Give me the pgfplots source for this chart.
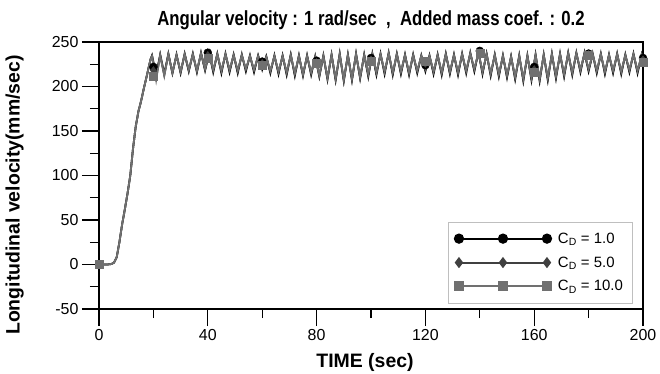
\documentclass[border=0pt]{standalone}
\usepackage{fontspec}
\setmainfont{Liberation Sans}
\newfontfamily\narrowfont{Liberation Sans}[FakeStretch=0.82]
\usepackage{pgfplots}
\pgfplotsset{compat=1.18}
\definecolor{cdone}{HTML}{000000}
\definecolor{cdfive}{HTML}{404040}
\definecolor{cdten}{HTML}{707070}
\begin{document}
\begin{tikzpicture}
\path[use as bounding box] (-99bp,-65bp) rectangle (561bp,309bp);
\begin{axis}[
  scale only axis, width=544bp, height=267bp,
  xmin=0, xmax=200, ymin=-50, ymax=250,
  xtick={0,40,...,200}, ytick={-50,0,...,250},
  minor x tick num=1, minor y tick num=1,
  xtick pos=bottom, ytick pos=left,
  tick align=outside,
  major tick length=17bp, minor tick length=9bp,
  axis line style={line width=1.4bp},
  every tick/.style={black, line width=1.3bp},
  tick label style={font=\fontsize{16}{18}\selectfont},
  /pgf/number format/assume math mode=true,
  title={Angular velocity : 1 rad/sec~~,~~Added mass coef. : 0.2},
  title style={font=\narrowfont\fontsize{20.5}{23}\selectfont\bfseries, at={(axis description cs:0.5,1)}, anchor=base, yshift=11bp},
  xlabel={TIME (sec)},
  xlabel style={font=\fontsize{19.5}{22}\selectfont\bfseries, at={(axis description cs:0.489,-0.202)}, anchor=center},
  ylabel={Longitudinal velocity(mm/sec)},
  ylabel style={font=\fontsize{19.5}{22}\selectfont\bfseries, at={(axis description cs:-0.155,0.427)}, anchor=center},
  legend image code/.code={\draw[#1] plot coordinates {(0bp,0bp) (44bp,0bp) (88bp,0bp)};},
  legend cell align=left,
  legend style={at={(axis description cs:0.98,0.022)}, anchor=south east, draw=black!25,
    font=\fontsize{15}{17}\selectfont, row sep=8bp, column sep=5bp, inner xsep=7bp, inner ysep=8.5bp},
]
% C_D = 1.0 (black)
\addplot[cdone, line width=1.8bp, forget plot] coordinates {
(0,0) (3,0) (4.5,0.5) (5.5,2) (6.5,8) (7.5,25) (8.5,45) (9.5,62) (10.5,80) (11.5,100) (12.5,130) (13.5,155) (14.5,172) (15.5,184) (16.5,198) (17.5,211) (18.3,222) (19,231)
(19.5,235) (21,213) (22.5,236) (24,214) (25.5,237) (27,215) (28.5,236) (30,215) (31.5,237) (33,217) (34.5,237) (36,216) (37.5,238) (39,218) (40.5,238) (42,216) (43.5,237) (45,215) (46.5,237) (48,216) (49.5,236)
(51,215) (52.5,236) (54,217) (55.5,235) (57,216) (58.5,235) (60,219) (61.5,234) (63,215) (64.5,235) (66,214) (67.5,235) (69,213) (70.5,236) (72,212) (73.5,235) (75,212) (76.5,235) (78,213) (79.5,234)
(81,211) (82.5,235) (84,208) (85.5,236) (87,207) (88.5,237) (90,206) (91.5,236) (93,207) (94.5,237) (96,209) (97.5,236) (99,211) (100.5,237) (102,213) (103.5,237) (105,214) (106.5,238) (108,213) (109.5,237)
(111,214) (112.5,236) (114,213) (115.5,236) (117,215) (118.5,235) (120,217) (121.5,235) (123,214) (124.5,236) (126,213) (127.5,237) (129,214) (130.5,236) (132,213) (133.5,237) (135,215) (136.5,238) (138,217) (139.5,239)
(141,214) (142.5,237) (144,212) (145.5,236) (147,211) (148.5,235) (150,210) (151.5,234) (153,208) (154.5,235) (156,206) (157.5,235) (159,207) (160.5,236) (162,206) (163.5,236) (165,207) (166.5,237) (168,209) (169.5,237)
(171,211) (172.5,238) (174,213) (175.5,238) (177,216) (178.5,238) (180,217) (181.5,237) (183,215) (184.5,237) (186,214) (187.5,236) (189,215) (190.5,237) (192,214) (193.5,236) (195,216) (196.5,237) (198,215) (199.5,236) (200,230)
};
% C_D = 5.0 (dark gray)
\addplot[cdfive, line width=1.8bp, forget plot] coordinates {
(0,0) (3,0) (4.5,0.5) (5.5,2) (6.5,8) (7.5,25) (8.5,45) (9.5,62) (10.5,80) (11.5,100) (12.5,130) (13.5,155) (14.5,172) (15.5,184) (16.5,198) (17.5,211) (18.3,222) (19,231)
(19.5,234) (21,210) (22.5,235) (24,213) (25.5,236) (27,215) (28.5,235) (30,216) (31.5,236) (33,218) (34.5,236) (36,217) (37.5,237) (39,219) (40.5,237) (42,218) (43.5,236) (45,217) (46.5,236) (48,218) (49.5,235)
(51,217) (52.5,235) (54,219) (55.5,234) (57,218) (58.5,234) (60,221) (61.5,233) (63,217) (64.5,234) (66,216) (67.5,234) (69,215) (70.5,235) (72,214) (73.5,234) (75,213) (76.5,234) (78,215) (79.5,233)
(81,212) (82.5,234) (84,209) (85.5,235) (87,208) (88.5,236) (90,207) (91.5,235) (93,208) (94.5,236) (96,210) (97.5,235) (99,213) (100.5,236) (102,215) (103.5,236) (105,216) (106.5,237) (108,215) (109.5,236)
(111,216) (112.5,235) (114,215) (115.5,235) (117,217) (118.5,234) (120,219) (121.5,234) (123,216) (124.5,235) (126,215) (127.5,236) (129,216) (130.5,235) (132,215) (133.5,236) (135,217) (136.5,237) (138,219) (139.5,238)
(141,216) (142.5,236) (144,214) (145.5,235) (147,213) (148.5,234) (150,212) (151.5,233) (153,210) (154.5,234) (156,208) (157.5,234) (159,209) (160.5,235) (162,208) (163.5,235) (165,209) (166.5,236) (168,211) (169.5,236)
(171,213) (172.5,237) (174,215) (175.5,237) (177,218) (178.5,237) (180,219) (181.5,236) (183,217) (184.5,236) (186,216) (187.5,235) (189,217) (190.5,236) (192,216) (193.5,235) (195,218) (196.5,236) (198,217) (199.5,235) (200,229)
};
% C_D = 10.0 (gray)
\addplot[cdten, line width=1.8bp, forget plot] coordinates {
(0,0) (3,0) (4.5,0.5) (5.5,2) (6.5,8) (7.5,25) (8.5,45) (9.5,62) (10.5,80) (11.5,100) (12.5,130) (13.5,155) (14.5,172) (15.5,184) (16.5,198) (17.5,211) (18.3,222) (19,231)
(19.5,234) (21,207) (22.5,235) (24,212) (25.5,236) (27,216) (28.5,235) (30,217) (31.5,236) (33,219) (34.5,236) (36,218) (37.5,237) (39,220) (40.5,237) (42,219) (43.5,236) (45,218) (46.5,236) (48,219) (49.5,235)
(51,218) (52.5,235) (54,220) (55.5,234) (57,219) (58.5,234) (60,222) (61.5,233) (63,218) (64.5,234) (66,217) (67.5,234) (69,216) (70.5,235) (72,215) (73.5,234) (75,214) (76.5,234) (78,216) (79.5,233)
(81,213) (82.5,234) (84,210) (85.5,235) (87,209) (88.5,236) (90,208) (91.5,235) (93,209) (94.5,236) (96,211) (97.5,235) (99,214) (100.5,236) (102,216) (103.5,236) (105,217) (106.5,237) (108,216) (109.5,236)
(111,217) (112.5,235) (114,216) (115.5,235) (117,218) (118.5,234) (120,220) (121.5,234) (123,217) (124.5,235) (126,216) (127.5,236) (129,217) (130.5,235) (132,216) (133.5,236) (135,218) (136.5,237) (138,220) (139.5,238)
(141,217) (142.5,236) (144,215) (145.5,235) (147,214) (148.5,234) (150,213) (151.5,233) (153,211) (154.5,234) (156,209) (157.5,234) (159,210) (160.5,235) (162,209) (163.5,235) (165,210) (166.5,236) (168,212) (169.5,236)
(171,214) (172.5,237) (174,216) (175.5,237) (177,219) (178.5,237) (180,220) (181.5,236) (183,218) (184.5,236) (186,217) (187.5,235) (189,218) (190.5,236) (192,217) (193.5,235) (195,219) (196.5,236) (198,218) (199.5,235) (200,228)
};
% markers
\addplot[only marks, mark=*, mark size=4bp, cdone, forget plot] coordinates {
(0,0) (20,222) (40,238) (60,228) (80,229) (100,232) (120,224) (140,240) (160,222) (180,237) (200,232)};
\addplot[only marks, mark=diamond*, mark size=4bp, cdfive, forget plot] coordinates {
(0,0) (20,218) (40,235) (60,226) (80,227) (100,230) (120,226) (140,238) (160,219) (180,236) (200,230)};
\addplot[only marks, mark=square*, mark size=4bp, cdten, forget plot] coordinates {
(0,0) (20,212) (40,232) (60,224) (80,226) (100,228) (120,228) (140,237) (160,216) (180,235) (200,227)};
% legend
\addlegendimage{cdone, line width=2.2bp, mark=*, mark size=4bp}
\addlegendentry{C\textsubscript{D} = 1.0}
\addlegendimage{cdfive, line width=2bp, mark=diamond*, mark size=4bp}
\addlegendentry{C\textsubscript{D} = 5.0}
\addlegendimage{cdten, line width=2bp, mark=square*, mark size=4bp}
\addlegendentry{C\textsubscript{D} = 10.0}
\end{axis}
\end{tikzpicture}
\end{document}
